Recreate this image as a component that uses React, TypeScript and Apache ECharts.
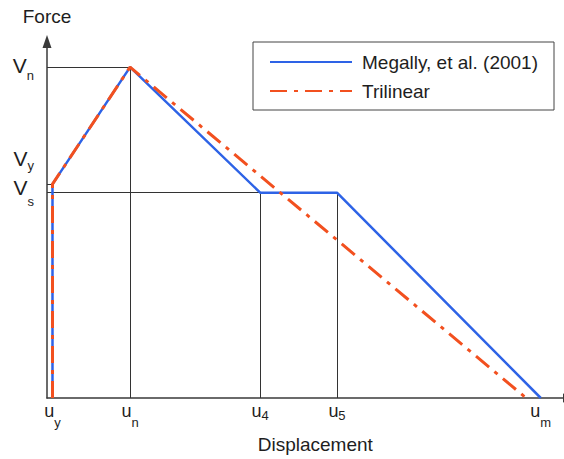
import React, { useEffect, useRef } from "react";
import * as echarts from "echarts";

// Characteristic displacements (tick positions) and their subscripts
const dispTicks = [1.05, 15.9, 40.8, 55.5, 94.5];
const dispSubs = ["y", "n", "4", "5", "m"];

// Characteristic forces (tick positions) and their subscripts
const forceTicks = [57.6, 60.0, 92.8];
const forceSubs = ["s", "y", "n"];

// Megally, et al. (2001) backbone
const megallyDisp = [1.05, 1.05, 15.9, 40.8, 55.5, 94.5];
const megallyForce = [0, 60.0, 92.8, 57.6, 57.6, 0];

// Trilinear approximation
const trilinearDisp = [1.05, 1.05, 15.9, 91.7];
const trilinearForce = [0, 60.0, 92.8, 0];

const seriesNames = ["Megally, et al. (2001)", "Trilinear"];

const FONT = "'Liberation Sans', Arial, Helvetica, sans-serif";
const TEXT = "#1e1e1e";
const BLUE = "#2e63e6";
const ORANGE = "#f2501f";

const pair = (xs: number[], ys: number[]) => xs.map((x, i) => [x, ys[i]]);

const idxOf = (arr: number[], v: number) =>
  arr.findIndex((t) => Math.abs(t - v) < 1e-6);

export default function App() {
  const ref = useRef<HTMLDivElement>(null);

  useEffect(() => {
    if (!ref.current) return;
    const chart = echarts.init(ref.current, undefined, { renderer: "svg" });

    const [uy, un, u4, u5] = dispTicks;
    const [Vs, Vy, Vn] = forceTicks;

    // thin guide lines from the axes to the characteristic points
    const guides = [
      [[0, Vn], [un, Vn]],
      [[un, 0], [un, Vn]],
      [[0, Vy], [uy, Vy]],
      [[0, Vs], [u5, Vs]],
      [[u4, 0], [u4, Vs]],
      [[u5, 0], [u5, Vs]],
    ].map(([a, b]) => [{ coord: a }, { coord: b }]);

    chart.setOption({
      animation: false,
      textStyle: { fontFamily: FONT, color: TEXT },
      grid: {
        left: 47,
        top: 41.5,
        width: 522.5,
        height: 356.5,
        containLabel: false,
        outerBoundsMode: "none",
      },
      legend: {
        data: seriesNames,
        orient: "vertical",
        left: 253,
        top: 42,
        itemWidth: 82,
        itemHeight: 14,
        itemGap: 9,
        padding: [10, 16, 9, 16],
        borderColor: "#444",
        borderWidth: 1,
        // line-only keys: hide the marker drawn on the key line
        itemStyle: { opacity: 0, borderWidth: 0 },
        textStyle: {
          fontSize: 19,
          color: TEXT,
          fontFamily: FONT,
          lineHeight: 20,
          padding: [0, 0, 0, 5],
        },
      },
      xAxis: {
        type: "value",
        min: 0,
        max: 100,
        name: "Displacement",
        nameLocation: "middle",
        nameGap: 37,
        nameTextStyle: {
          fontSize: 19,
          color: TEXT,
          fontFamily: FONT,
          padding: [0, 0, 0, 14],
        },
        splitLine: { show: false },
        axisTick: { show: false },
        axisLine: {
          show: true,
          symbol: ["none", "triangle"],
          symbolSize: [9, 13],
          lineStyle: { color: "#3a3a3a", width: 1.5 },
        },
        axisLabel: {
          customValues: dispTicks,
          margin: 13,
          verticalAlign: "middle",
          color: TEXT,
          fontFamily: FONT,
          formatter: (v: number) => {
            const i = idxOf(dispTicks, v);
            if (i < 0) return "";
            const s = dispSubs[i];
            const key = /\d/.test(s) ? "d" : "l";
            return `{u|u}{${key}|${s}}`;
          },
          rich: {
            u: { fontSize: 18 },
            l: { fontSize: 13, padding: [22, 0, 0, 0] },
            d: { fontSize: 13, padding: [9, 0, 0, 0] },
          },
        },
      },
      yAxis: {
        type: "value",
        min: 0,
        max: 100,
        name: "Force",
        nameLocation: "end",
        nameGap: 15.5,
        nameTextStyle: { fontSize: 19, color: TEXT, fontFamily: FONT },
        splitLine: { show: false },
        axisTick: { show: false },
        axisLine: {
          show: true,
          symbol: ["none", "triangle"],
          symbolSize: [9, 13],
          lineStyle: { color: "#3a3a3a", width: 1.5 },
        },
        axisLabel: {
          customValues: forceTicks,
          margin: 13,
          color: TEXT,
          fontFamily: FONT,
          formatter: (v: number) => {
            const i = idxOf(forceTicks, v);
            if (i < 0) return "";
            const s = forceSubs[i];
            return `{v${s}|V}{s${s}|${s}}`;
          },
          rich: {
            vn: { fontSize: 21, padding: [0, 0, 4, 0] },
            sn: { fontSize: 13, padding: [16, 0, 0, 0] },
            vy: { fontSize: 21, padding: [0, 0, 52, 0] },
            sy: { fontSize: 13, padding: [0, 0, 37, 0] },
            vs: { fontSize: 21, padding: [0, 0, 11, 0] },
            ss: { fontSize: 13, padding: [18, 0, 0, 0] },
          },
        },
      },
      series: [
        {
          type: "line",
          data: [],
          silent: true,
          z: 1,
          markLine: {
            silent: true,
            z: 1,
            symbol: ["none", "none"],
            label: { show: false },
            lineStyle: { color: "#333", width: 1, type: "solid" },
            emphasis: { disabled: true },
            data: guides,
          },
        },
        {
          name: seriesNames[0],
          type: "line",
          data: pair(megallyDisp, megallyForce),
          symbol: "none",
          z: 10,
          lineStyle: { color: BLUE, width: 2.5 },
          itemStyle: { color: BLUE },
        },
        {
          name: seriesNames[1],
          type: "line",
          data: pair(trilinearDisp, trilinearForce),
          symbol: "none",
          z: 11,
          lineStyle: {
            color: ORANGE,
            width: 3,
            type: [17, 7, 4, 7],
          },
          itemStyle: { color: ORANGE },
        },
      ],
    });

    return () => chart.dispose();
  }, []);

  return (
    <div
      ref={ref}
      style={{
        position: "fixed",
        left: 0,
        top: 0,
        width: 564,
        height: 459,
        background: "#fff",
      }}
    />
  );
}
